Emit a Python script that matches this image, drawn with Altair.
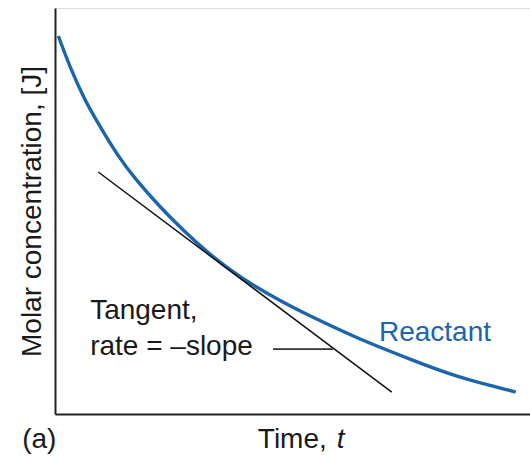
import altair as alt
import pandas as pd

# Reactant concentration curve (arbitrary units)
time_vals = [0.7, 3.2, 6, 8.8, 13, 17.2, 22.1, 27, 32, 39, 47, 54, 64, 75, 85, 97]
conc_vals = [93.1, 85.5, 78.2, 72.2, 64.2, 57.6, 51.1, 45.3, 40.0, 33.8, 28.2,
             24.0, 18.6, 13.4, 9.2, 5.4]

# Tangent line endpoints
tangent_t = [9.1, 70.9]
tangent_c = [59.6, 5.4]

# Leader line from label to tangent
leader_t = [45.9, 58.5]
leader_c = [16.0, 16.0]

# Annotation texts
label_text = ["Tangent,", "rate = \u2013slope"]
label_t = [7.4, 7.4]
label_c = [23.4, 14.5]

reactant_text = ["Reactant"]
reactant_t = [68.2]
reactant_c = [18.0]

FONT = "Liberation Sans"
FS = 28
BLUE = "#1b64ae"

curve_df = pd.DataFrame({"t": time_vals, "c": conc_vals})
tan_df = pd.DataFrame({"t": tangent_t, "c": tangent_c})
lead_df = pd.DataFrame({"t": leader_t, "c": leader_c})
lab_df = pd.DataFrame({"t": label_t, "c": label_c, "txt": label_text})
rea_df = pd.DataFrame({"t": reactant_t, "c": reactant_c, "txt": reactant_text})
xt_df = pd.DataFrame({"t": [42.7], "c": [-8.4], "txt": ["Time,"]})
xi_df = pd.DataFrame({"t": [59.3], "c": [-8.4], "txt": ["t"]})
a_df = pd.DataFrame({"t": [-6.9], "c": [-8.4], "txt": ["(a)"]})

xsc = alt.Scale(domain=[0, 100], nice=False, zero=False)
ysc = alt.Scale(domain=[0, 100], nice=False, zero=False)

xaxis = alt.Axis(title=None, ticks=False, labels=False, grid=False,
                 domainWidth=2, domainColor="#222222")
yaxis = alt.Axis(title="Molar concentration, [J]", ticks=False, labels=False,
                 grid=False, domainWidth=2, domainColor="#222222",
                 titleFont=FONT, titleFontSize=FS, titleFontWeight="normal",
                 titleColor="#1a1a1a", titlePadding=9)

curve = alt.Chart(curve_df).mark_line(
    color=BLUE, strokeWidth=3.4, interpolate="natural"
).encode(
    x=alt.X("t:Q", scale=xsc, axis=xaxis),
    y=alt.Y("c:Q", scale=ysc, axis=yaxis),
)

tangent = alt.Chart(tan_df).mark_line(color="#111111", strokeWidth=1.5).encode(
    x=alt.X("t:Q", scale=xsc), y=alt.Y("c:Q", scale=ysc)
)

leader = alt.Chart(lead_df).mark_line(color="#333333", strokeWidth=1.8).encode(
    x=alt.X("t:Q", scale=xsc), y=alt.Y("c:Q", scale=ysc)
)

def text_layer(df, color="#1a1a1a", style="normal"):
    return alt.Chart(df).mark_text(
        align="left", baseline="alphabetic", font=FONT, fontSize=FS,
        color=color, fontStyle=style
    ).encode(
        x=alt.X("t:Q", scale=xsc), y=alt.Y("c:Q", scale=ysc), text="txt:N"
    )

chart = alt.layer(
    curve, tangent, leader,
    text_layer(lab_df),
    text_layer(rea_df, color=BLUE),
    text_layer(xt_df),
    text_layer(xi_df, style="italic"),
    text_layer(a_df),
).properties(
    width=475, height=406,
    autosize=alt.AutoSizeParams(type="none"),
    padding={"left": 55, "top": 8, "right": 0, "bottom": 42},
).configure_view(stroke=None).configure(background="white")

chart.save("out.html", embed_options={"renderer": "svg", "actions": False})
